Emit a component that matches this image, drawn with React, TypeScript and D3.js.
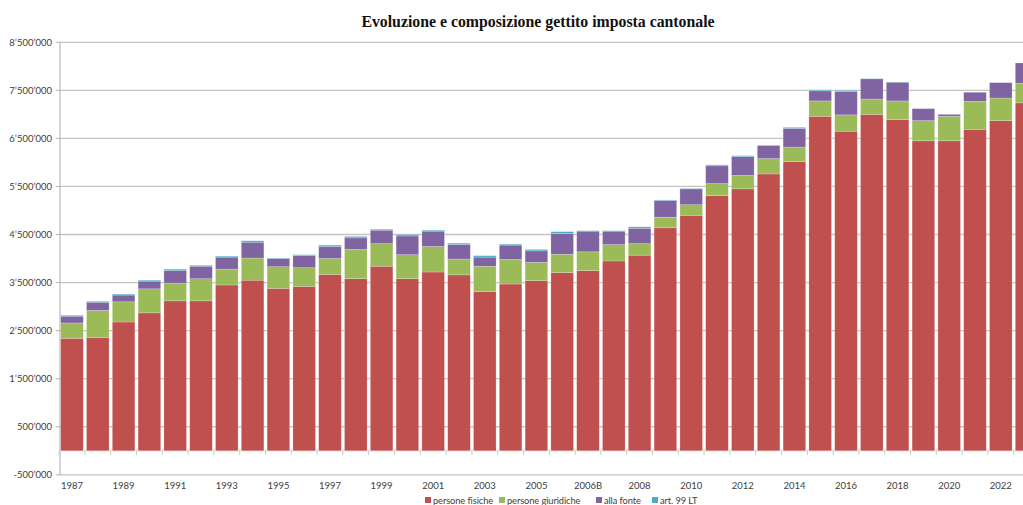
import * as d3 from "d3";

// Gettito imposta cantonale, per componente
const years = [
  "1987", "1988", "1989", "1990", "1991", "1992", "1993", "1994", "1995", "1996",
  "1997", "1998", "1999", "2000", "2001", "2002", "2003", "2004", "2005", "2006",
  "2006B", "2007", "2008", "2009", "2010", "2011", "2012", "2013", "2014", "2015",
  "2016", "2017", "2018", "2019", "2020", "2021", "2022", "2023",
];
const personeFisiche = [
  2340000, 2360000, 2680000, 2870000, 3120000, 3120000, 3450000, 3550000, 3380000, 3420000,
  3670000, 3580000, 3840000, 3580000, 3720000, 3660000, 3310000, 3470000, 3540000, 3710000,
  3750000, 3950000, 4070000, 4640000, 4900000, 5310000, 5450000, 5760000, 6020000, 6960000,
  6650000, 7000000, 6890000, 6450000, 6450000, 6690000, 6870000, 7240000,
];
const personeGiuridiche = [
  320000, 560000, 420000, 500000, 370000, 460000, 330000, 460000, 450000, 390000,
  330000, 610000, 470000, 500000, 530000, 330000, 530000, 510000, 380000, 380000,
  390000, 340000, 240000, 220000, 220000, 250000, 280000, 320000, 300000, 320000,
  340000, 320000, 390000, 420000, 510000, 580000, 470000, 410000,
];
const allaFonte = [
  140000, 170000, 140000, 160000, 260000, 260000, 250000, 330000, 170000, 250000,
  250000, 240000, 280000, 390000, 320000, 300000, 190000, 300000, 240000, 430000,
  430000, 280000, 320000, 350000, 330000, 370000, 390000, 270000, 390000, 210000,
  490000, 420000, 390000, 250000, 40000, 190000, 320000, 420000,
];
const art99 = [
  20000, 20000, 20000, 20000, 30000, 20000, 20000, 30000, 10000, 20000,
  30000, 30000, 20000, 30000, 20000, 30000, 30000, 20000, 30000, 40000,
  10000, 10000, 30000, 10000, 10000, 20000, 20000, 10000, 20000, 20000,
  20000, 5000, 5000, 0, 0, 0, 0, 0,
];
const yTicks = [-500000, 500000, 1500000, 2500000, 3500000, 4500000, 5500000, 6500000, 7500000, 8500000];

const seriesKeys = ["pf", "pg", "af", "a99"];
const seriesNames = ["persone fisiche", "persone giuridiche", "alla fonte", "art. 99 LT"];
const seriesColors = ["#c0504d", "#9bbb59", "#8064a2", "#4bacc6"];

const W = 1023;
const H = 505;
const LEFT = 59.1;
const STEP = 25.8;
const FONT = "Lato, 'Liberation Sans', sans-serif";

const rows = years.map((y, i) => ({
  year: y,
  pf: personeFisiche[i],
  pg: personeGiuridiche[i],
  af: allaFonte[i],
  a99: art99[i],
}));

const x = d3
  .scaleBand<string>()
  .domain(years)
  .range([LEFT, LEFT + years.length * STEP])
  .paddingInner(0.125)
  .paddingOuter(0.0625);

const y = d3.scaleLinear().domain([-500000, 8500000]).range([474.8, 42.3]);

const stacked = d3.stack<any>().keys(seriesKeys)(rows);

// 8'500'000 style, Swiss thousands separator
const fmt = (v: number) => {
  const s = d3.format(",")(Math.abs(v)).replace(/,/g, "\u2019");
  return v < 0 ? "-" + s : s;
};

const legendX = [425, 499, 596, 652];

export default function App() {
  const x0 = 60;
  return (
    <svg
      width={W}
      height={H}
      viewBox={`0 0 ${W} ${H}`}
      style={{ position: "absolute", left: 0, top: 0, background: "#fff", fontFamily: FONT }}
    >
      <text
        x={538}
        y={27}
        textAnchor="middle"
        fontFamily="'Liberation Serif', 'Times New Roman', serif"
        fontWeight={700}
        fontSize={15.8}
        fill="#111"
      >
        Evoluzione e composizione gettito imposta cantonale
      </text>

      {/* gridlines + y axis labels */}
      {yTicks.map((t) => (
        <g key={t}>
          <line x1={x0} x2={W} y1={y(t)} y2={y(t)} stroke="#c4c4c4" strokeWidth={1.3} />
          <line x1={x0 - 4} x2={x0} y1={y(t)} y2={y(t)} stroke="#b0b0b0" strokeWidth={1} />
          <text x={52} y={y(t)} dy="0.35em" textAnchor="end" fontSize={9.5} fill="#404040">
            {fmt(t)}
          </text>
        </g>
      ))}
      <line x1={x0} x2={x0} y1={y(8500000)} y2={y(-500000)} stroke="#b8b8b8" strokeWidth={1.2} />

      {/* zero axis with category ticks */}
      <line x1={x0} x2={W} y1={y(0)} y2={y(0)} stroke="#d6d6d6" strokeWidth={1} />
      {years.map((yr) => (
        <line
          key={"t" + yr}
          x1={(x(yr) as number) - (STEP - x.bandwidth()) / 2}
          x2={(x(yr) as number) - (STEP - x.bandwidth()) / 2}
          y1={y(0)}
          y2={y(0) + 4}
          stroke="#c8c8c8"
          strokeWidth={1}
        />
      ))}

      {/* stacked bars */}
      {stacked.map((s, si) => (
        <g key={s.key} fill={seriesColors[si]}>
          {s.map((d) => {
            const h = y(d[0]) - y(d[1]);
            if (h <= 0) return null;
            return (
              <rect
                key={d.data.year}
                x={x(d.data.year)}
                y={y(d[1])}
                width={x.bandwidth()}
                height={h}
                stroke="#ffffff"
                strokeOpacity={0.35}
                strokeWidth={0.6}
              />
            );
          })}
        </g>
      ))}

      {/* x labels, every second category */}
      {years.map((yr, i) =>
        i % 2 === 0 ? (
          <text
            key={"l" + yr}
            x={(x(yr) as number) + x.bandwidth() / 2}
            y={489}
            textAnchor="middle"
            fontSize={9.5}
            fill="#404040"
          >
            {yr}
          </text>
        ) : null
      )}

      {/* legend */}
      {seriesNames.map((n, i) => (
        <g key={n}>
          <rect x={legendX[i]} y={497} width={6} height={6} fill={seriesColors[i]} />
          <text x={legendX[i] + 8} y={503.5} fontSize={9.3} letterSpacing={-0.1} fill="#404040">
            {n}
          </text>
        </g>
      ))}
    </svg>
  );
}
